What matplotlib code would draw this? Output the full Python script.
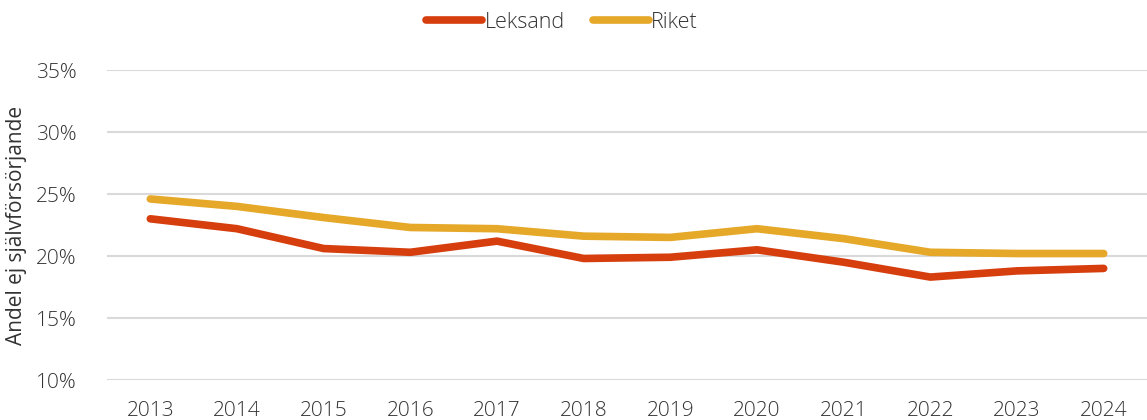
import numpy as np
import matplotlib
matplotlib.use("Agg")
import matplotlib.pyplot as plt
from matplotlib.ticker import FuncFormatter

# ===============================================================================

years = [2013, 2014, 2015, 2016, 2017, 2018, 2019, 2020, 2021, 2022, 2023, 2024]
leksand = [23.0, 22.2, 20.6, 20.3, 21.2, 19.8, 19.9, 20.5, 19.5, 18.3, 18.8, 19.0]
riket = [24.6, 24.0, 23.1, 22.3, 22.2, 21.6, 21.5, 22.2, 21.4, 20.3, 20.2, 20.2]
yticks = [10, 15, 20, 25, 30, 35]

clrLeksand = "#D63E0E"
clrRiket = "#E5A829"
txtClr = "#333333"

plt.rcParams['font.family'] = ['Open Sans', 'DejaVu Sans']
plt.rcParams['font.weight'] = 'light'

# ===============================================================================

fig = plt.figure(figsize=(11.47, 4.2), dpi=100)
ax = fig.add_axes([107/1147, 1-380/420, 1-107/1147, (380-70)/420])

x = np.arange(len(years))
ax.plot(x, leksand, lw=5.5, c=clrLeksand, solid_capstyle='round',
        solid_joinstyle='round', label="Leksand", zorder=3)
ax.plot(x, riket, lw=5.5, c=clrRiket, solid_capstyle='round',
        solid_joinstyle='round', label="Riket", zorder=3)

ax.set_xlim(-0.5, len(years)-0.5)
ax.set_ylim(10, 35)
ax.set_xticks(x)
ax.set_xticklabels([str(y) for y in years])
ax.set_yticks(yticks)
ax.yaxis.set_major_formatter(FuncFormatter(lambda v, p: f"{v:.0f}%"))

ax.grid(axis='y', color='#D9D9D9', lw=1.5, zorder=0)
ax.set_axisbelow(True)
for s in ax.spines.values():
    s.set_visible(False)
ax.tick_params(axis='both', length=0, labelsize=15, colors=txtClr)
ax.tick_params(axis='x', pad=15)
ax.tick_params(axis='y', pad=22)

ax.set_ylabel("Andel ej självförsörjande", fontsize=15, color=txtClr)
ax.yaxis.set_label_coords(-0.077, 0.5)

leg = fig.legend(loc='center', bbox_to_anchor=(0.49, 1-22/420), ncol=2,
                 frameon=False, fontsize=15.5, handlelength=2.6,
                 handletextpad=0.1, columnspacing=1.3, labelcolor=txtClr)
for h in leg.get_lines():
    h.set_solid_capstyle('round')

# ===============================================================================

plt.savefig("out.png", dpi=100)
plt.close()
